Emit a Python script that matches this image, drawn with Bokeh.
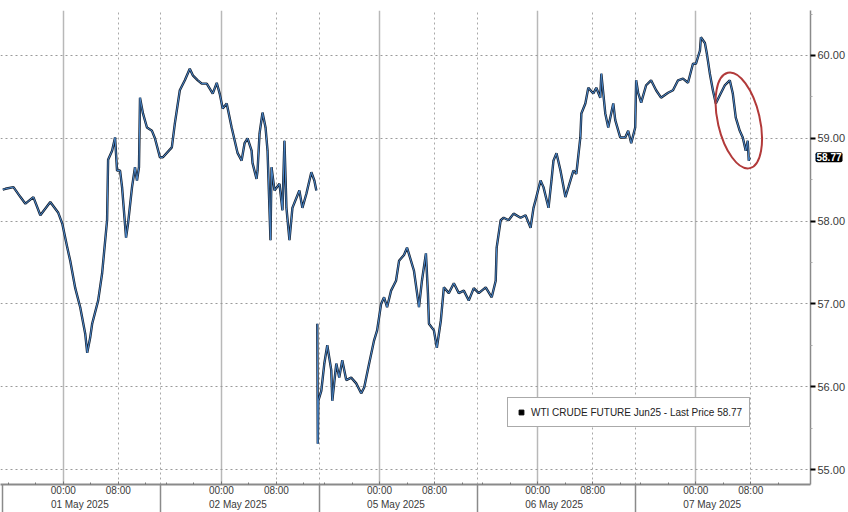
import numpy as np
from bokeh.plotting import figure
from bokeh.models import (Range1d, FixedTicker, LinearAxis, Grid, Legend, LegendItem,
                          Label, PrintfTickFormatter, ColumnDataSource)
from bokeh.embed import file_html
from bokeh.resources import INLINE

# ---------------- data ----------------
SERIES_NAME = "WTI CRUDE FUTURE Jun25"
DAYS = ["01 May 2025", "02 May 2025", "05 May 2025", "06 May 2025", "07 May 2025"]
SESSION_HOURS = 23          # each trading session on the compressed axis
MIDNIGHT_OFFSET = 8.8       # hours from session start to 00:00
TIME_LABELS = ["00:00", "08:00"]
TIME_OFFSETS = [0, 8]
DATE_LABEL_OFFSET = 11.2
PRICE_TICKS = [55, 56, 57, 58, 59, 60]
NAN = float("nan")

# trading hours elapsed on the compressed axis
HOURS = [
    0.0, 0.39, 1.55, 2.57, 3.29, 4.45, 5.46, 6.91, 8.07, 8.65, 9.38, 9.81, 10.54, 11.26,
    11.99, 12.28, 12.71, 13.00, 13.87, 14.45, 15.17, 15.32, 15.90, 16.33, 16.62, 17.06,
    17.35, 17.93, 18.22, 18.80, 19.23, 19.52, 19.81, 19.96, 20.39, 20.97, 21.70, 22.13,
    22.86, 23.29, 24.59, 25.03, 25.75, 26.48, 27.20, 27.64, 28.36, 28.94, 29.67, 30.54,
    31.12, 31.55, 31.99, 32.57, 33.29, 34.16, 34.74, 35.17, 35.61, 36.19, 36.33, 36.91,
    37.06, 37.35, 37.78, 38.22, 38.51, 38.94, 39.09, 39.52, 40.25, 40.68, 40.97, 41.26,
    41.70, 42.13, 43.14, 43.58, 44.16, 44.88, 45.32, 45.61,
    45.70,
    45.75, 45.82, 45.90, 46.33, 46.77, 47.20, 47.78, 47.93, 48.51, 48.94, 49.38, 49.96,
    50.68, 51.41, 52.13, 52.57, 53.29, 54.01, 54.45, 55.03, 55.46, 55.90, 56.48, 57.20,
    57.64, 58.36, 58.80, 59.38, 59.81, 60.54, 60.97, 61.55, 61.84, 61.99, 62.71, 63.14,
    63.72, 64.16, 64.88, 65.61, 66.33, 67.06, 67.78, 68.51, 69.23, 70.25, 71.12, 71.70,
    71.84, 72.42, 72.86, 73.58, 74.30, 75.32, 76.04, 76.77, 77.20, 77.49, 78.22, 78.65,
    79.38, 79.81, 80.10, 80.54, 81.12, 81.84, 82.28, 83.00, 83.43, 84.01, 84.16, 84.74,
    85.17, 85.90, 86.33, 86.91, 87.06, 87.64, 88.07, 88.80, 89.09, 89.81, 90.54, 90.97,
    91.41, 91.99, 92.13, 92.42, 92.86, 93.58, 94.30, 95.03, 95.75, 96.77, 97.49, 98.22,
    98.94, 99.67, 100.39, 100.83, 101.41, 101.55, 102.13, 102.42, 102.85, 103.29, 103.72,
    104.30, 105.03, 105.75, 106.19, 106.62, 107.20, 107.64, 108.07, 108.36, 108.51, 108.65,
]
PRICES = [
    58.38, 58.39, 58.41, 58.29, 58.21, 58.29, 58.07, 58.23, 58.10, 57.97, 57.68, 57.52, 57.19, 56.96,
    56.64, 56.41, 56.59, 56.76, 57.04, 57.37, 58.01, 58.74, 58.85, 59.01, 58.61, 58.61,
    58.41, 57.80, 57.97, 58.41, 58.65, 58.49, 58.65, 59.49, 59.30, 59.13, 59.09, 59.00,
    58.77, 58.77, 58.89, 59.18, 59.58, 59.70, 59.84, 59.76, 59.70, 59.66, 59.66, 59.54,
    59.67, 59.54, 59.36, 59.42, 59.13, 58.82, 58.73, 58.94, 59.00, 58.85, 58.70, 58.51,
    58.61, 59.06, 59.31, 59.13, 58.85, 57.77, 58.65, 58.37, 58.45, 58.13, 58.97, 58.16,
    57.77, 58.16, 58.37, 58.16, 58.33, 58.59, 58.49, 58.37,
    NAN,
    56.76, 55.31, 55.83, 55.95, 56.28, 56.50, 56.20, 55.83, 56.28, 56.11, 56.32, 56.08,
    56.11, 56.04, 55.92, 55.99, 56.28, 56.56, 56.68, 57.00, 57.08, 56.96, 57.16, 57.28,
    57.52, 57.59, 57.68, 57.52, 57.40, 56.96, 57.28, 57.61, 57.13, 56.76, 56.68, 56.47,
    56.80, 57.20, 57.13, 57.25, 57.13, 57.16, 57.04, 57.19, 57.13, 57.20, 57.08, 57.28,
    57.68, 58.01, 58.04, 58.01, 58.09, 58.04, 58.07, 57.92, 58.16, 58.25, 58.49, 58.41,
    58.16, 58.49, 58.73, 58.82, 58.61, 58.29, 58.41, 58.61, 58.57, 59.01, 59.30, 59.42,
    59.61, 59.54, 59.61, 59.49, 59.78, 59.30, 59.13, 59.42, 59.22, 59.01, 59.01, 59.09,
    58.94, 59.13, 59.70, 59.55, 59.43, 59.64, 59.70, 59.58, 59.49, 59.55, 59.58, 59.70,
    59.72, 59.67, 59.90, 59.90, 60.06, 60.22, 60.15, 60.02, 59.78, 59.58, 59.42,
    59.52, 59.64, 59.70, 59.54, 59.25, 59.09, 59.01, 58.85, 58.97, 58.73, 58.77,
]
LAST_PRICE = 58.77
# highlight ellipse (annotation): centre in data units, size in pixels, tilt in degrees
HIGHLIGHT = dict(x=107.06, y=59.215, w=42, h=98, tilt=13)

# ---------------- layout ----------------
X_START, X_END = -0.333, 117.49
Y_START, Y_END = 54.819, 60.543
FONT = "Liberation Sans"
TEXT_COLOR = "#3a3a3a"

day_starts = [SESSION_HOURS * d for d in range(len(DAYS))]
midnights = [round(s + MIDNIGHT_OFFSET, 2) for s in day_starts]
time_ticks, time_over = [], {}
for m in midnights:
    for off, lab in zip(TIME_OFFSETS, TIME_LABELS):
        t = round(m + off, 2)
        time_ticks.append(t)
        time_over[t] = lab
minor_x = [round(m + k * 4, 2) for m in midnights for k in range(-2, 4)]
eights = [round(m + 8, 2) for m in midnights]
date_ticks = [round(s + DATE_LABEL_OFFSET, 2) for s in day_starts]
date_over = {t: d for t, d in zip(date_ticks, DAYS)}

src = ColumnDataSource(data=dict(x=np.array(HOURS, dtype=float), y=np.array(PRICES, dtype=float)))

p = figure(width=848, height=512, x_range=Range1d(X_START, X_END), y_range=Range1d(Y_START, Y_END),
           output_backend="svg", toolbar_location=None, y_axis_location="right",
           min_border_left=0, min_border_top=0, min_border_right=35, min_border_bottom=27,
           background_fill_color="white", border_fill_color="white", outline_line_color=None)

# grids
p.xgrid.ticker = FixedTicker(ticks=midnights)
p.xgrid.grid_line_color = "#b8b8b8"
p.xgrid.grid_line_width = 1.5
p.ygrid.ticker = FixedTicker(ticks=PRICE_TICKS)
p.ygrid.grid_line_color = "#9a9a9a"
p.ygrid.grid_line_dash = "2 3"
p.add_layout(Grid(dimension=0, ticker=FixedTicker(ticks=eights + day_starts[1:]),
                  grid_line_color="#a8a8a8", grid_line_dash="2 3"))

# bottom time axis
xa = p.xaxis[0]
xa.ticker = FixedTicker(ticks=time_ticks, minor_ticks=minor_x)
xa.major_label_overrides = time_over
xa.axis_line_color = "#8a8a8a"
xa.axis_line_width = 2
xa.major_tick_in = 3
xa.major_tick_out = 0
xa.minor_tick_in = 2
xa.minor_tick_out = 0
xa.major_tick_line_color = "#777777"
xa.minor_tick_line_color = "#777777"
xa.major_label_standoff = 0
xa.major_label_text_font = FONT
xa.major_label_text_font_size = "10px"
xa.major_label_text_color = TEXT_COLOR

date_axis = LinearAxis(ticker=FixedTicker(ticks=date_ticks), major_label_overrides=date_over,
                       axis_line_color=None, major_tick_line_color=None, minor_tick_line_color=None,
                       major_tick_in=0, major_tick_out=0, major_label_standoff=0,
                       major_label_text_font=FONT, major_label_text_font_size="10px",
                       major_label_text_color=TEXT_COLOR)
p.add_layout(date_axis, "below")

# day separators: long inward ticks of a label-less outermost axis
sep_axis = LinearAxis(ticker=FixedTicker(ticks=day_starts, minor_ticks=[]),
                      major_label_overrides={b: "" for b in day_starts},
                      axis_line_color=None, minor_tick_line_color=None,
                      major_tick_in=28, major_tick_out=0, major_label_standoff=0,
                      major_tick_line_color="#8a8a8a", major_tick_line_width=1.5,
                      major_label_text_font_size="0px", major_label_text_alpha=0)
p.add_layout(sep_axis, "below")

# right price axis
ya = p.yaxis[0]
ya.ticker = FixedTicker(ticks=PRICE_TICKS, minor_ticks=[v + 0.5 for v in PRICE_TICKS])
ya.formatter = PrintfTickFormatter(format="%.2f")
ya.axis_line_color = "#8a8a8a"
ya.axis_line_width = 1.5
ya.major_tick_in = 0
ya.major_tick_out = 5
ya.major_tick_line_color = "black"
ya.major_tick_line_width = 2
ya.minor_tick_in = 0
ya.minor_tick_out = 2
ya.minor_tick_line_color = "#aaaaaa"
ya.major_label_standoff = 2
ya.major_label_text_font = FONT
ya.major_label_text_font_size = "11px"
ya.major_label_text_color = TEXT_COLOR

# price line
p.line("x", "y", source=src, line_color="#17202e", line_width=2.4)
p.line("x", "y", source=src, line_color="#4a88cc", line_width=1.0)

# highlight ellipse
p.ellipse(x=[HIGHLIGHT["x"]], y=[HIGHLIGHT["y"]], width=HIGHLIGHT["w"], height=HIGHLIGHT["h"],
          width_units="screen", height_units="screen", angle=np.deg2rad(HIGHLIGHT["tilt"]),
          fill_alpha=0, line_color="#b23a3a", line_width=2)

# legend
sq = p.scatter(x=[HOURS[-1]], y=[PRICES[-1]], marker="square", size=9, color="black", visible=False)
legend = Legend(items=[LegendItem(label=f"{SERIES_NAME} - Last Price {LAST_PRICE:.2f}", renderers=[sq])],
                location=(507, 57), orientation="vertical",
                label_text_font=FONT, label_text_font_size="10px", label_text_color="#222222",
                glyph_width=12, glyph_height=12, label_standoff=4, label_height=14,
                padding=7, margin=0, spacing=0,
                border_line_color="#555555", border_line_width=1.2,
                background_fill_color="white", background_fill_alpha=1)
p.add_layout(legend)

# last price tag on the axis (lives in a side panel so it is not clipped to the frame)
p.add_layout(Label(x=X_END, y=LAST_PRICE, x_offset=5, text=f"{LAST_PRICE:.2f}",
                   text_font=FONT, text_font_size="10px", text_font_style="bold",
                   text_color="white", text_baseline="middle", text_align="left",
                   background_fill_color="black", padding=1, border_radius=2), "above")

open("out.html", "w").write(file_html(p, INLINE))
